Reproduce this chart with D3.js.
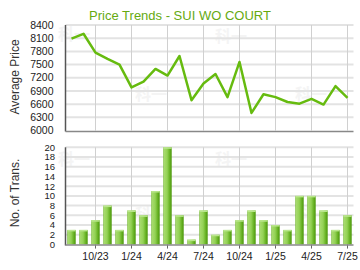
<!DOCTYPE html>
<html><head><meta charset="utf-8">
<script src="https://cdn.jsdelivr.net/npm/d3@7"></script>
<style>body{margin:0;background:#fff}svg{display:block;font-family:"Liberation Sans",Arial,sans-serif}</style>
</head><body><svg id="c" width="360" height="270"></svg>
<script>
const months = ["8/23","9/23","10/23","11/23","12/23","1/24","2/24","3/24","4/24","5/24","6/24","7/24","8/24","9/24","10/24","11/24","12/24","1/25","2/25","3/25","4/25","5/25","6/25","7/25"];
const avgPrice = [8090,8200,7770,7630,7500,6980,7110,7400,7250,7695,6690,7070,7285,6760,7560,6400,6825,6760,6648,6610,6720,6590,7010,6740];
const trans = [3,3,5,8,3,7,6,11,20,6,1,7,2,3,5,7,5,4,3,10,10,7,3,6];
const tickMonths = ["10/23","1/24","4/24","7/24","10/24","1/25","4/25","7/25"];
const priceTicks = [6000,6300,6600,6900,7200,7500,7800,8100,8400];
const transTicks = [0,2,4,6,8,10,12,14,16,18,20];
const title = "Price Trends - SUI WO COURT";

const svg = d3.select("#c");
const L = 65.5, R = 353.5;
const x = d3.scaleBand().domain(months).range([L, R]).paddingInner(0.3).paddingOuter(0.15);
const cx = m => x(m) + x.bandwidth()/2;

const yP = d3.scaleLinear().domain([6000,8400]).range([130.5,25]);
const yT = d3.scaleLinear().domain([0,20]).range([244.5,147.3]);

const defs = svg.append("defs");
const g = defs.append("linearGradient").attr("id","bar").attr("x1","0").attr("x2","1").attr("y1","0").attr("y2","0");
[["0%","#6fb52c"],["12%","#a6da6c"],["45%","#94d256"],["80%","#62ae1e"],["100%","#4c960e"]].forEach(s=>g.append("stop").attr("offset",s[0]).attr("stop-color",s[1]));

function wm(xx,yy){svg.append("text").attr("x",xx).attr("y",yy).attr("font-size",16).attr("font-weight","bold").attr("fill","#f4f4f4").attr("font-family","Noto Sans CJK SC").text("科一");}
wm(58,40);wm(215,42);wm(135,100);wm(295,100);wm(58,165);wm(215,165);wm(135,220);wm(295,220);

svg.append("text").attr("x",180).attr("y",19.5).attr("text-anchor","middle").attr("font-size",13).attr("fill","#66aa11").text(title);

const gTop = svg.append("g");
gTop.selectAll(".hg").data(priceTicks.slice(1)).join("line")
  .attr("x1",L).attr("x2",R).attr("y1",d=>yP(d)).attr("y2",d=>yP(d)).attr("stroke","#e3e3e3").attr("stroke-width",2);
gTop.selectAll(".vg").data(tickMonths).join("line")
  .attr("x1",d=>cx(d)).attr("x2",d=>cx(d)).attr("y1",yP(8400)).attr("y2",yP(6000)).attr("stroke","#d0d0d0").attr("stroke-width",1);
gTop.append("line").attr("x1",L).attr("x2",L).attr("y1",yP(8400)).attr("y2",yP(6000)+1).attr("stroke","#555").attr("stroke-width",1.5);
gTop.append("line").attr("x1",L).attr("x2",R).attr("y1",yP(6000)+1).attr("y2",yP(6000)+1).attr("stroke","#888").attr("stroke-width",1.5);
gTop.selectAll(".yl").data(priceTicks).join("text")
  .attr("x",53.5).attr("y",d=>yP(d)+3.6).attr("text-anchor","end").attr("font-size",10.5).attr("fill","#222").text(d=>d);
svg.append("text").attr("transform","translate(19,77) rotate(-90)").attr("text-anchor","middle").attr("font-size",12).attr("fill","#333").text("Average Price");

const line = d3.line().x((d,i)=>cx(months[i])).y(d=>yP(d));
gTop.append("path").datum(avgPrice).attr("d",line).attr("fill","none").attr("stroke","#66bb0f").attr("stroke-width",2.5).attr("stroke-linejoin","round");

const gBot = svg.append("g");
gBot.selectAll(".hg").data(transTicks.slice(1)).join("line")
  .attr("x1",L).attr("x2",R).attr("y1",d=>yT(d)).attr("y2",d=>yT(d)).attr("stroke","#e3e3e3").attr("stroke-width",2);
gBot.selectAll(".vg").data(tickMonths).join("line")
  .attr("x1",d=>cx(d)).attr("x2",d=>cx(d)).attr("y1",yT(20)).attr("y2",yT(0)+4).attr("stroke","#d0d0d0").attr("stroke-width",1);
gBot.selectAll(".tk").data(tickMonths).join("line")
  .attr("x1",d=>cx(d)).attr("x2",d=>cx(d)).attr("y1",yT(0)).attr("y2",yT(0)+4).attr("stroke","#666").attr("stroke-width",1);
const bw = x.bandwidth();
gBot.selectAll(".bar").data(trans).join("rect")
  .attr("x",(d,i)=>x(months[i])).attr("width",bw).attr("y",d=>yT(d)).attr("height",d=>yT(0)-yT(d)).attr("fill","url(#bar)");
gBot.selectAll(".cap").data(trans).join("rect")
  .attr("x",(d,i)=>x(months[i])).attr("width",bw).attr("y",d=>yT(d)).attr("height",1.5).attr("fill","#b9e68c");
gBot.append("line").attr("x1",L).attr("x2",L).attr("y1",yT(20)).attr("y2",yT(0)+1).attr("stroke","#555").attr("stroke-width",1.5);
gBot.append("line").attr("x1",L).attr("x2",R).attr("y1",yT(0)+0.5).attr("y2",yT(0)+0.5).attr("stroke","#888").attr("stroke-width",1.5);
gBot.selectAll(".yl").data(transTicks).join("text")
  .attr("x",55).attr("y",d=>yT(d)+3.4).attr("text-anchor","end").attr("font-size",9.5).attr("fill","#222").text(d=>d);
gBot.selectAll(".xl").data(tickMonths).join("text")
  .attr("x",d=>cx(d)).attr("y",259.5).attr("text-anchor","middle").attr("font-size",10.5).attr("fill","#222").text(d=>d);
svg.append("text").attr("transform","translate(19,193) rotate(-90)").attr("text-anchor","middle").attr("font-size",12).attr("fill","#333").text("No. of Trans.");
</script></body></html>
